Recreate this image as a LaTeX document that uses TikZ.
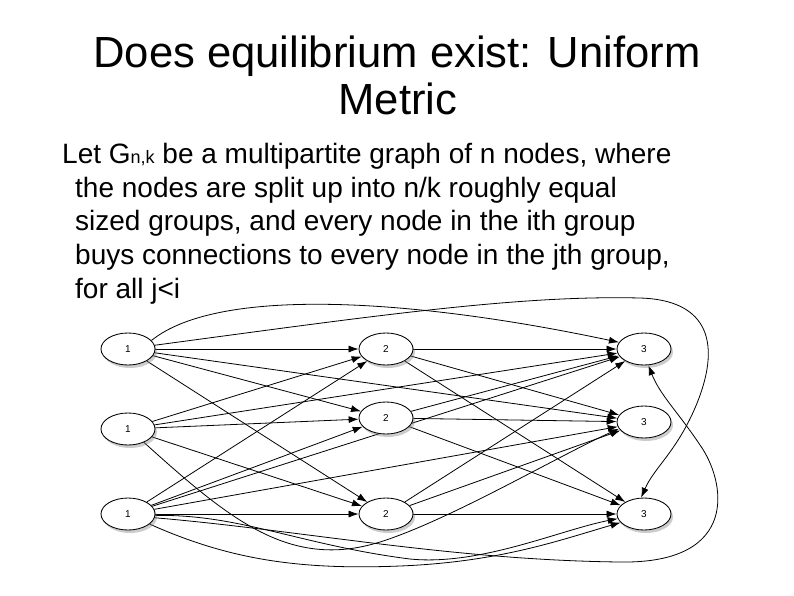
\documentclass[tikz,border=0pt]{standalone}
\usepackage{fontspec}
\setmainfont{Liberation Sans}
\usetikzlibrary{arrows.meta,shadows,shapes.geometric}
\pgfdeclarelayer{background}
\pgfdeclarelayer{paper}
\pgfsetlayers{paper,background,main}
\begin{document}
\begin{tikzpicture}[x=1pt,y=-1pt,
  gnode/.style={ellipse, draw, line width=0.85pt, fill=white, minimum width=54pt, minimum height=32pt, inner sep=0pt,
    font=\fontsize{10}{10}\selectfont,
    drop shadow={shadow xshift=2pt,shadow yshift=-3pt,opacity=0.4}},
  edge/.style={-{Latex[length=10pt,width=7pt]}, line width=0.8pt},
  titletext/.style={anchor=base, inner sep=0pt, font=\fontsize{43.6}{52}\selectfont},
  bodytext/.style={anchor=base west, inner sep=0pt, font=\fontsize{28}{33.5}\selectfont}]
\useasboundingbox (0,0) rectangle (794,595);
\begin{pgfonlayer}{paper}
\fill[white] (0,0) rectangle (794,595);
\end{pgfonlayer}

\node[titletext] (t1) at (397,67) {Does equilibrium exist: Uniform};
\node[titletext] (t2) at (398,114) {Metric};

\node[bodytext] (b1) at (62,163) {Let G{\fontsize{18}{18}\selectfont n,k} be a multipartite graph of n nodes, where};
\node[bodytext] (b2) at (75,197) {the nodes are split up into n/k roughly equal};
\node[bodytext] (b3) at (75,230) {sized groups, and every node in the ith group};
\node[bodytext] (b4) at (75,264) {buys connections to every node in the jth group,};
\node[bodytext] (b5) at (75,298) {for all j<i};

\node[gnode] (a1) at (128,349) {1};
\node[gnode] (b1n) at (128,429) {1};
\node[gnode] (c1) at (128,514) {1};
\node[gnode] (a2) at (386,349) {2};
\node[gnode] (b2n) at (386,418) {2};
\node[gnode] (c2) at (386,514) {2};
\node[gnode] (a3) at (644,349) {3};
\node[gnode] (b3n) at (644,422) {3};
\node[gnode] (c3) at (644,514) {3};

\begin{pgfonlayer}{background}
% column 1 to column 2
\foreach \s in {a1,b1n,c1}{
  \foreach \t in {a2,b2n,c2}{
    \draw[edge] (\s) -- (\t);
  }
}
% column 2 to column 3
\foreach \s in {a2,b2n,c2}{
  \foreach \t in {a3,b3n,c3}{
    \draw[edge] (\s) -- (\t);
  }
}
% straight long edges
\draw[edge] (a1) -- (b3n);
\draw[edge] (b1n) -- (a3);
\draw[edge] (c1) -- (a3);
\draw[edge] (c1) -- (b3n);
% arc over the top
\draw[edge] (a1.20) .. controls (220,285) and (420,300) .. (a3.165);
% long arc round the right to the bottom node
\draw[edge] (a1.8) .. controls (380,315) and (520,295) .. (640,298)
  .. controls (710,300) and (722,345) .. (695,408)
  .. controls (676,452) and (654,468) .. (c3.100);
% long curve under the bottom and up to the top node
\draw[edge] (c1.-8) .. controls (300,530) and (450,560) .. (620,562)
  .. controls (742,564) and (725,480) .. (700,445)
  .. controls (678,412) and (660,395) .. (a3.-75);
% curve under the middle bottom node
\draw[edge] (b1n.-40) .. controls (230,520) and (290,570) .. (380,542)
  .. controls (450,520) and (560,455) .. (b3n.195);
% curves below into the bottom right node
\draw[edge] (c1.-3) .. controls (240,514) and (300,545) .. (410,559)
  .. controls (480,566) and (560,530) .. (c3.190);
\draw[edge] (c1.-25) .. controls (230,560) and (300,570) .. (400,566)
  .. controls (500,562) and (560,540) .. (c3.200);
\end{pgfonlayer}
\end{tikzpicture}
\end{document}
